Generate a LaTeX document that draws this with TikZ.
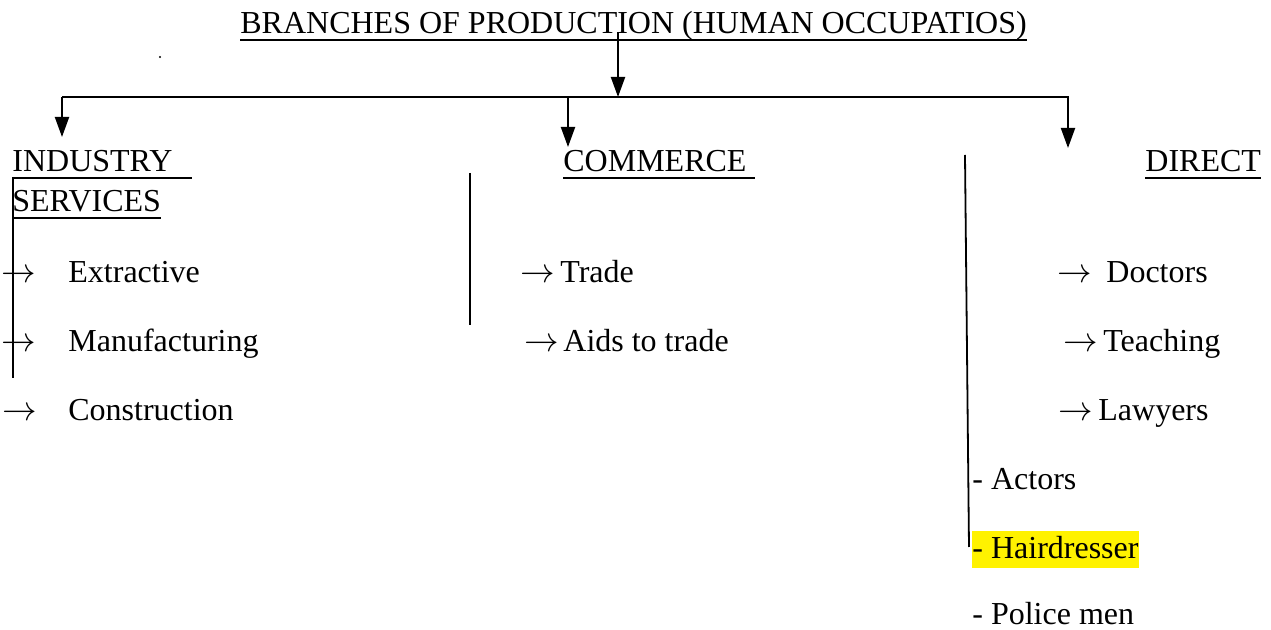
\documentclass[tikz,border=0pt]{standalone}
\usepackage{fontspec}
\setmainfont{Liberation Serif}
\usetikzlibrary{arrows.meta}
% arrow sign in a box of fixed width, then the word
\newcommand{\arritem}[2]{\makebox[#1][l]{$\rightarrow$}#2}
\begin{document}
\begin{tikzpicture}[x=0.5pt,y=-0.5pt,
  txt/.style={anchor=base west, inner sep=0pt, font=\fontsize{16}{19}\selectfont},
  link/.style={line width=1pt},
  flow/.style={line width=1pt, -{Triangle[width=7pt,length=10pt]}},
  uline/.style={line width=0.9pt},
  bar/.style={line width=0.9pt},
  mark yellow/.style={fill=yellow, inner xsep=0pt, inner ysep=0.5pt,
    text height=13.5pt, text depth=4pt}]
\useasboundingbox (0,0) rectangle (1271,630);

% heading
\node[txt] (title) at (240,34) {BRANCHES OF PRODUCTION (HUMAN OCCUPATIOS)};
\draw[uline] ([yshift=-3pt]title.base west) -- ([yshift=-3pt]title.base east);
\fill (160,57) circle (0.6pt);

% branch heads
\node[txt] (ind)  at (12,172)   {INDUSTRY};
\node[txt] (serv) at (12,212)   {SERVICES};
\node[txt] (com)  at (563,172)  {COMMERCE};
\node[txt] (dir)  at (1145,172) {DIRECT};
\draw[uline] ([yshift=-3pt]ind.base west) -- ++(180,0);
\draw[uline] ([yshift=-3pt]serv.base west) -- ([yshift=-3pt]serv.base east);
\draw[uline] ([yshift=-3pt]com.base west) -- ++(192,0);
\draw[uline] ([yshift=-3pt]dir.base west) -- ([yshift=-3pt]dir.base east);

% connector points
\coordinate (tstart) at (618,32);
\coordinate (split)  at (618,97);
\coordinate (busL)   at (62,97);
\coordinate (busC)   at (568,97);
\coordinate (busR)   at (1068,97);
\coordinate (tipL)   at (62,137);
\coordinate (tipC)   at (568,147);
\coordinate (tipR)   at (1068,148);

\draw[flow] (tstart) -- (split);
\draw[link] (busL) -- (busR) -- ++(0,-4pt);
\draw[flow] (busL) -- (tipL);
\draw[flow] (busC) -- (tipC);
\draw[flow] (busR) -- (tipR);

% industry items
\node[txt] (ext) at (1,283) {\arritem{33.5pt}{Extractive}};
\node[txt] (man) at (1,352) {\arritem{33.5pt}{Manufacturing}};
\node[txt] (con) at (2,421) {\arritem{33pt}{Construction}};

% commerce items
\node[txt] (trd) at (520,283) {\arritem{20pt}{Trade}};
\node[txt] (aid) at (524,352) {\arritem{19.5pt}{Aids to trade}};

% direct services items
\node[txt] (doc) at (1057,283) {\arritem{24.5pt}{Doctors}};
\node[txt] (tea) at (1063,352) {\arritem{20pt}{Teaching}};
\node[txt] (law) at (1058,421) {\arritem{20pt}{Lawyers}};
\node[txt] (act) at (972,490) {- Actors};
\node[txt, mark yellow] (hair) at (972,559) {- Hairdresser};
\node[txt] (pol) at (972,625) {- Police men};

% side bars
\coordinate (barLt) at (13,177);
\coordinate (barLb) at (13,378);
\coordinate (barMt) at (470,173);
\coordinate (barMb) at (470,325);
\coordinate (barRt) at (965,155);
\coordinate (barRb) at (969,547);
\draw[bar] (barLt) -- (barLb);
\draw[bar] (barMt) -- (barMb);
\draw[bar] (barRt) -- (barRb);
\end{tikzpicture}
\end{document}
